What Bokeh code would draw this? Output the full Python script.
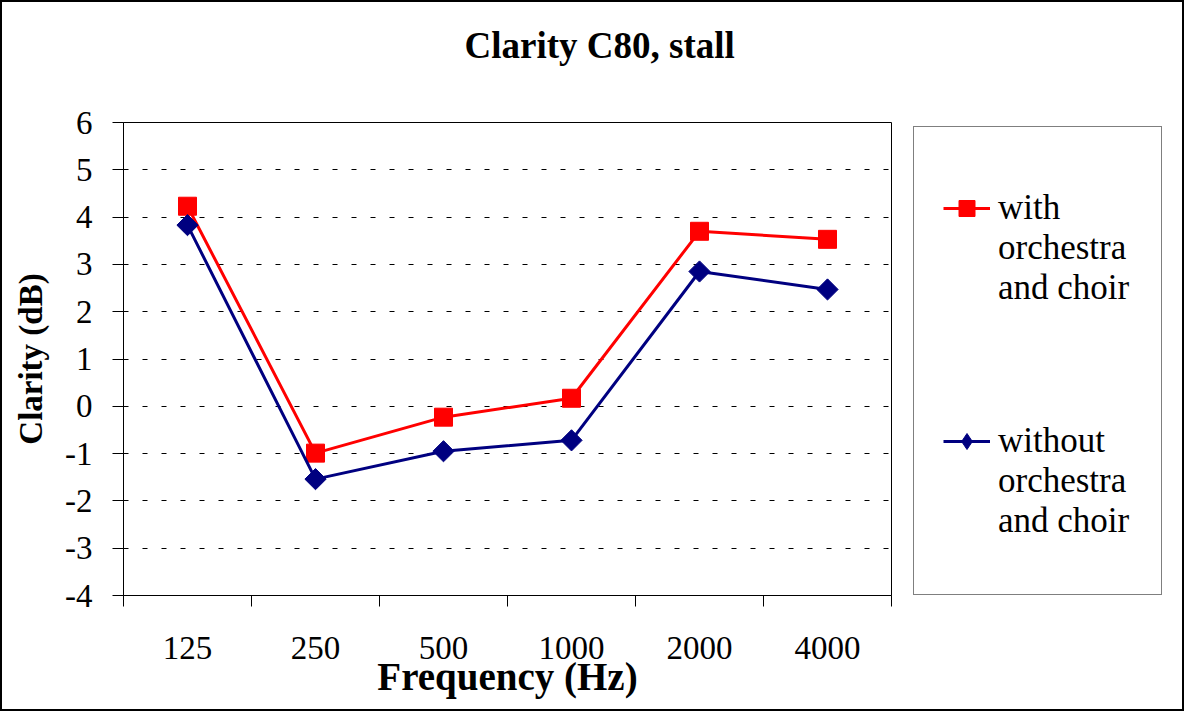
from bokeh.plotting import figure
from bokeh.layouts import row
from bokeh.models import FixedTicker, Legend, LegendItem, Title
from bokeh.embed import file_html
from bokeh.resources import INLINE
import math

categories = ["125", "250", "500", "1000", "2000", "4000"]
with_vals = [4.23, -0.99, -0.23, 0.17, 3.70, 3.53]
without_vals = [3.83, -1.54, -0.95, -0.72, 2.85, 2.47]
y_ticks = [-4, -3, -2, -1, 0, 1, 2, 3, 4, 5, 6]
series_labels = [["with", "orchestra", "and choir"], ["without", "orchestra", "and choir"]]

FONT = "Liberation Serif"
RED = "#FF0000"
NAVY = "#000080"

xs = [i + 0.5 for i in range(len(categories))]

# ---------------- main plot ----------------
p = figure(width=890, height=707, output_backend="svg", toolbar_location=None,
           x_range=(0, len(categories)), y_range=(-4, 6),
           min_border_left=121, min_border_right=1, min_border_top=120, min_border_bottom=114)
p.background_fill_color = "white"
p.border_fill_color = "white"
p.outline_line_color = "black"
p.outline_line_width = 1

p.add_layout(Title(text=" ", text_font_size="10px", standoff=28), "above")
p.add_layout(Title(text="Clarity C80, stall", align="left", offset=341, standoff=32,
                   text_font=FONT, text_font_size="37px", text_font_style="bold",
                   text_color="black"), "above")

# x axis
p.xaxis.ticker = FixedTicker(ticks=xs, minor_ticks=list(range(len(categories) + 1)))
p.xaxis.major_label_overrides = {x: c for x, c in zip(xs, categories)}
p.xaxis.major_tick_out = 0
p.xaxis.major_tick_in = 0
p.xaxis.minor_tick_out = 11
p.xaxis.minor_tick_in = 0
p.xaxis.minor_tick_line_color = "black"
p.xaxis.major_label_standoff = 30
p.xaxis.axis_label = "Frequency (Hz)"
p.xaxis.axis_label_standoff = -7
p.xaxis.axis_label_text_font_size = "39px"
p.xgrid.visible = False

# y axis
p.yaxis.ticker = FixedTicker(ticks=y_ticks)
p.yaxis.major_label_overrides = {t: str(t) for t in y_ticks}
p.yaxis.major_tick_out = 11
p.yaxis.major_tick_in = 0
p.yaxis.minor_tick_out = 0
p.yaxis.minor_tick_in = 0
p.yaxis.major_label_standoff = 20
p.yaxis.axis_label = "Clarity (dB)"
p.yaxis.axis_label_standoff = 13
p.yaxis.axis_label_text_font_size = "33px"
p.ygrid.grid_line_color = "black"
p.ygrid.grid_line_dash = "5 14"
p.ygrid.grid_line_width = 1

for ax in (p.xaxis, p.yaxis):
    ax.axis_line_color = "black"
    ax.major_tick_line_color = "black"
    ax.major_label_text_font = FONT
    ax.major_label_text_font_size = "33px"
    ax.major_label_text_color = "black"
    ax.axis_label_text_font = FONT
    ax.axis_label_text_font_style = "bold"
    ax.axis_label_text_color = "black"

p.line(xs, with_vals, line_color=RED, line_width=3)
p.scatter(xs, with_vals, marker="square", size=18, fill_color=RED, line_color=RED)
p.line(xs, without_vals, line_color=NAVY, line_width=3)
p.scatter(xs, without_vals, marker="square", size=15, angle=math.pi / 4,
          fill_color=NAVY, line_color=NAVY)

# ---------------- legend panel ----------------
q = figure(width=290, height=707, output_backend="svg", toolbar_location=None,
           x_range=(100, 101), y_range=(100, 101), x_axis_type=None, y_axis_type=None,
           min_border_left=0, min_border_right=0, min_border_top=120, min_border_bottom=114)
q.outline_line_color = None
q.grid.visible = False
q.background_fill_color = "white"
q.border_fill_color = "white"

# legend proxies (same data, outside the visible range of this panel)
ql1 = q.line(xs, with_vals, line_color=RED, line_width=3)
qm1 = q.scatter(xs, with_vals, marker="square", size=18, fill_color=RED, line_color=RED)
ql2 = q.line(xs, without_vals, line_color=NAVY, line_width=3)
qm2 = q.scatter(xs, without_vals, marker="diamond", size=18, fill_color=NAVY, line_color=NAVY)
blank = q.line(xs, with_vals, line_alpha=0)

box = Legend(items=[LegendItem(label=" ", renderers=[blank])], location=(21, 0))
box.glyph_width = 47
box.glyph_height = 411
box.label_width = 136
box.label_standoff = 8
box.label_text_font_size = "10px"
box.padding = 28
box.spacing = 0
box.margin = 0
box.border_line_color = "black"
box.border_line_width = 1.5
box.background_fill_color = "white"
q.add_layout(box)


def entry_legend(lines, rends, loc):
    items = [LegendItem(label=lines[0], renderers=rends)]
    items += [LegendItem(label=t, renderers=[blank]) for t in lines[1:]]
    lg = Legend(items=items, location=loc)
    lg.label_text_font = FONT
    lg.label_text_font_size = "35px"
    lg.label_text_color = "black"
    lg.glyph_width = 47
    lg.glyph_height = 40
    lg.label_height = 40
    lg.label_standoff = 8
    lg.spacing = 0
    lg.padding = 0
    lg.margin = 0
    lg.border_line_alpha = 0
    lg.background_fill_alpha = 0
    return lg


q.add_layout(entry_legend(series_labels[0], [ql1, qm1], (51, 287)))
q.add_layout(entry_legend(series_labels[1], [ql2, qm2], (51, 54)))

layout = row(p, q)
layout.styles = {"border": "2px solid black"}

open("out.html", "w").write(file_html(layout, INLINE))
